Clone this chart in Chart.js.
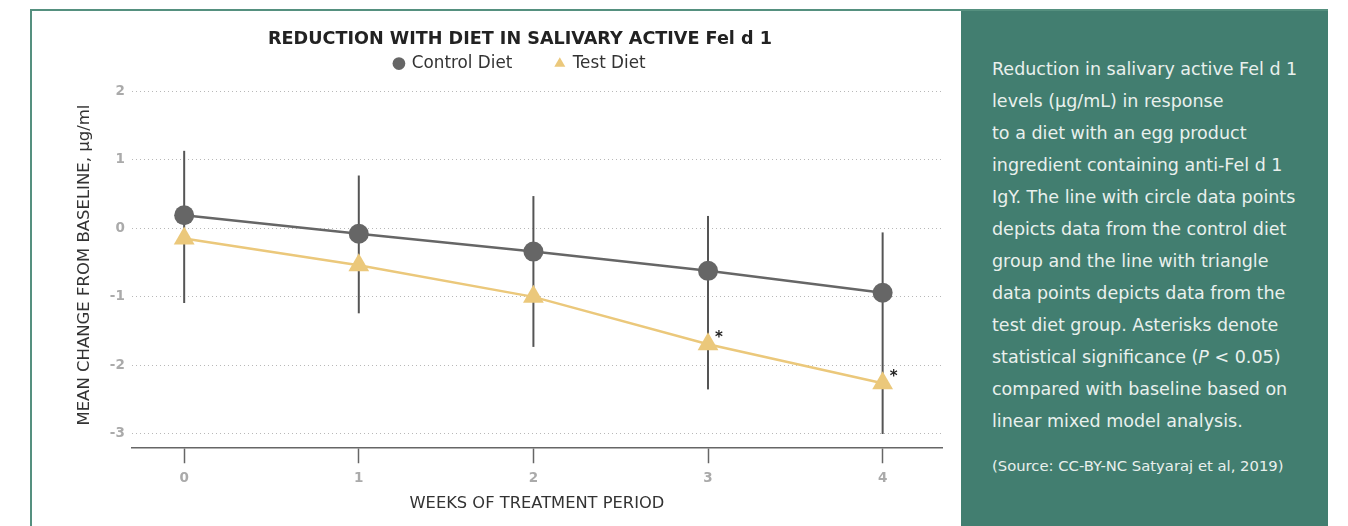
<!DOCTYPE html>
<html>
<head>
<meta charset="utf-8">
<script src="https://cdn.jsdelivr.net/npm/chart.js@4.4.1/dist/chart.umd.min.js"></script>
<style>
    html, body { margin: 0; padding: 0; background: #fff; }
    body { width: 1348px; height: 526px; position: relative; overflow: hidden; font-family: 'DejaVu Sans', sans-serif; }
    #frame {
        position: absolute; left: 30px; top: 9px; width: 1294px; height: 560px;
        border: 2px solid #55907f;
    }
    #chart-box { position: absolute; left: 40px; top: 12px; width: 960px; height: 514px; }
    #note {
        position: absolute; left: 961px; top: 11px; width: 367px; height: 520px;
        background: #427e70; color: #e9f0ed; box-sizing: border-box;
        padding: 42px 0 0 31px; font-size: 17.5px; line-height: 32px; z-index: 2;
        white-space: nowrap;
    }
    #note .src { font-size: 14.8px; margin-top: 19px; line-height: 20px; }
</style>
</head>
<body>
<div id="frame"></div>
<div id="chart-box"><canvas id="fel-chart"></canvas></div>
<div id="note">
    Reduction in salivary active Fel d 1<br>
    levels (µg/mL) in response<br>
    to a diet with an egg product<br>
    ingredient containing anti-Fel d 1<br>
    IgY. The line with circle data points<br>
    depicts data from the control diet<br>
    group and the line with triangle<br>
    data points depicts data from the<br>
    test diet group. Asterisks denote<br>
    statistical significance (<i>P</i> &lt; 0.05)<br>
    compared with baseline based on<br>
    linear mixed model analysis.
    <div class="src">(Source: CC-BY-NC Satyaraj et al, 2019)</div>
</div>
<script>
// ── DATA ─────────────────────────────────────────────

var weeks      = [0, 1, 2, 3, 4];
var yTicks     = [2, 1, 0, -1, -2, -3];
var controlAvg = [0.19, -0.08, -0.34, -0.62, -0.94];
var testAvg    = [-0.15, -0.54, -1.0, -1.69, -2.26];
var errHigh    = [1.13, 0.77, 0.47, 0.18, -0.06];
var errLow     = [-1.09, -1.24, -1.73, -2.35, -3.0];
var testSig    = [false, false, false, true, true];

var FONT = "'DejaVu Sans', sans-serif";

function points(vals) {
    var out = [];
    for (var i = 0; i < weeks.length; i++) {
        out.push({ x: weeks[i], y: vals[i] });
    }
    return out;
}

// ── ERROR BARS + ASTERISKS ───────────────────────────

var errorBars = {
    id: 'errorBars',
    beforeDatasetsDraw: function(chart) {
        var ctx = chart.ctx;
        var xs = chart.scales.x;
        var ys = chart.scales.y;
        ctx.save();
        ctx.strokeStyle = '#555';
        ctx.lineWidth = 2;
        for (var i = 0; i < weeks.length; i++) {
            var x = xs.getPixelForValue(weeks[i]);
            ctx.beginPath();
            ctx.moveTo(x, ys.getPixelForValue(errHigh[i]));
            ctx.lineTo(x, ys.getPixelForValue(errLow[i]));
            ctx.stroke();
        }
        ctx.restore();
    },
    afterDatasetsDraw: function(chart) {
        var ctx = chart.ctx;
        var xs = chart.scales.x;
        var ys = chart.scales.y;
        ctx.save();
        ctx.fillStyle = '#222';
        ctx.font = 'bold 15px ' + FONT;
        ctx.textAlign = 'center';
        ctx.textBaseline = 'middle';
        for (var i = 0; i < weeks.length; i++) {
            if (!testSig[i]) continue;
            ctx.fillText('*', xs.getPixelForValue(weeks[i]) + 11, ys.getPixelForValue(testAvg[i]) - 6);
        }
        ctx.restore();
    }
};

// ── CHART ────────────────────────────────────────────

var ctx = document.getElementById('fel-chart').getContext('2d');

var chart = new Chart(ctx, {
    type: 'line',
    data: {
        datasets: [
            {
                label: 'Control Diet',
                data: points(controlAvg),
                borderColor: '#666666',
                backgroundColor: '#666666',
                borderWidth: 2.5,
                pointStyle: 'circle',
                pointRadius: 10,
                pointHoverRadius: 10,
                pointBorderWidth: 0
            },
            {
                label: 'Test Diet',
                data: points(testAvg),
                borderColor: '#ebc87b',
                backgroundColor: '#ebc87b',
                borderWidth: 2.5,
                pointStyle: 'triangle',
                pointRadius: 12,
                pointHoverRadius: 12,
                pointBorderWidth: 0
            }
        ]
    },
    options: {
        responsive: true,
        maintainAspectRatio: false,
        animation: false,
        layout: { padding: 0 },
        plugins: {
            tooltip: { enabled: false },
            title: {
                display: true,
                text: 'REDUCTION WITH DIET IN SALIVARY ACTIVE Fel d 1',
                color: '#222',
                font: { family: FONT, size: 17.6, weight: 'bold' },
                padding: { top: 16.5, bottom: -37.5 }
            },
            legend: {
                display: true,
                labels: {
                    usePointStyle: true,
                    boxWidth: 9,
                    boxHeight: 9,
                    padding: 43,
                    color: '#333',
                    font: { family: FONT, size: 16.8 }
                }
            }
        },
        scales: {
            x: {
                type: 'linear',
                min: -0.3,
                max: 4.34,
                afterBuildTicks: function(axis) {
                    axis.ticks = weeks.map(function(v) { return { value: v }; });
                },
                grid: {
                    drawOnChartArea: false,
                    drawTicks: true,
                    tickLength: 15,
                    tickColor: '#666',
                    tickWidth: 1.5
                },
                border: { display: true, color: '#666', width: 1.5 },
                ticks: {
                    color: '#aaa',
                    padding: 7,
                    font: { family: FONT, size: 13.5, weight: 'bold' }
                },
                title: {
                    display: true,
                    text: 'WEEKS OF TREATMENT PERIOD',
                    color: '#333',
                    font: { family: FONT, size: 16.3 },
                    padding: { top: 1, bottom: 12 }
                }
            },
            y: {
                min: -3.208,
                max: 2.135,
                afterBuildTicks: function(axis) {
                    axis.ticks = yTicks.map(function(v) { return { value: v }; });
                },
                grid: {
                    color: '#b8b8b8',
                    lineWidth: 1,
                    drawTicks: false
                },
                border: { display: false, dash: [1, 3] },
                ticks: {
                    color: '#aaa',
                    padding: 7,
                    font: { family: FONT, size: 13.5, weight: 'bold' }
                },
                title: {
                    display: true,
                    text: 'MEAN CHANGE FROM BASELINE, µg/ml',
                    color: '#333',
                    font: { family: FONT, size: 16.5 },
                    padding: { top: 35, bottom: 8 }
                }
            },
            // empty right axis, only keeps space so the title sits centred on the canvas
            yRight: {
                position: 'right',
                display: true,
                grid: { display: false },
                border: { display: false },
                ticks: { display: false },
                afterFit: function(axis) {
                    axis.width = 58;
                }
            }
        }
    },
    plugins: [errorBars]
});
</script>
</body>
</html>
